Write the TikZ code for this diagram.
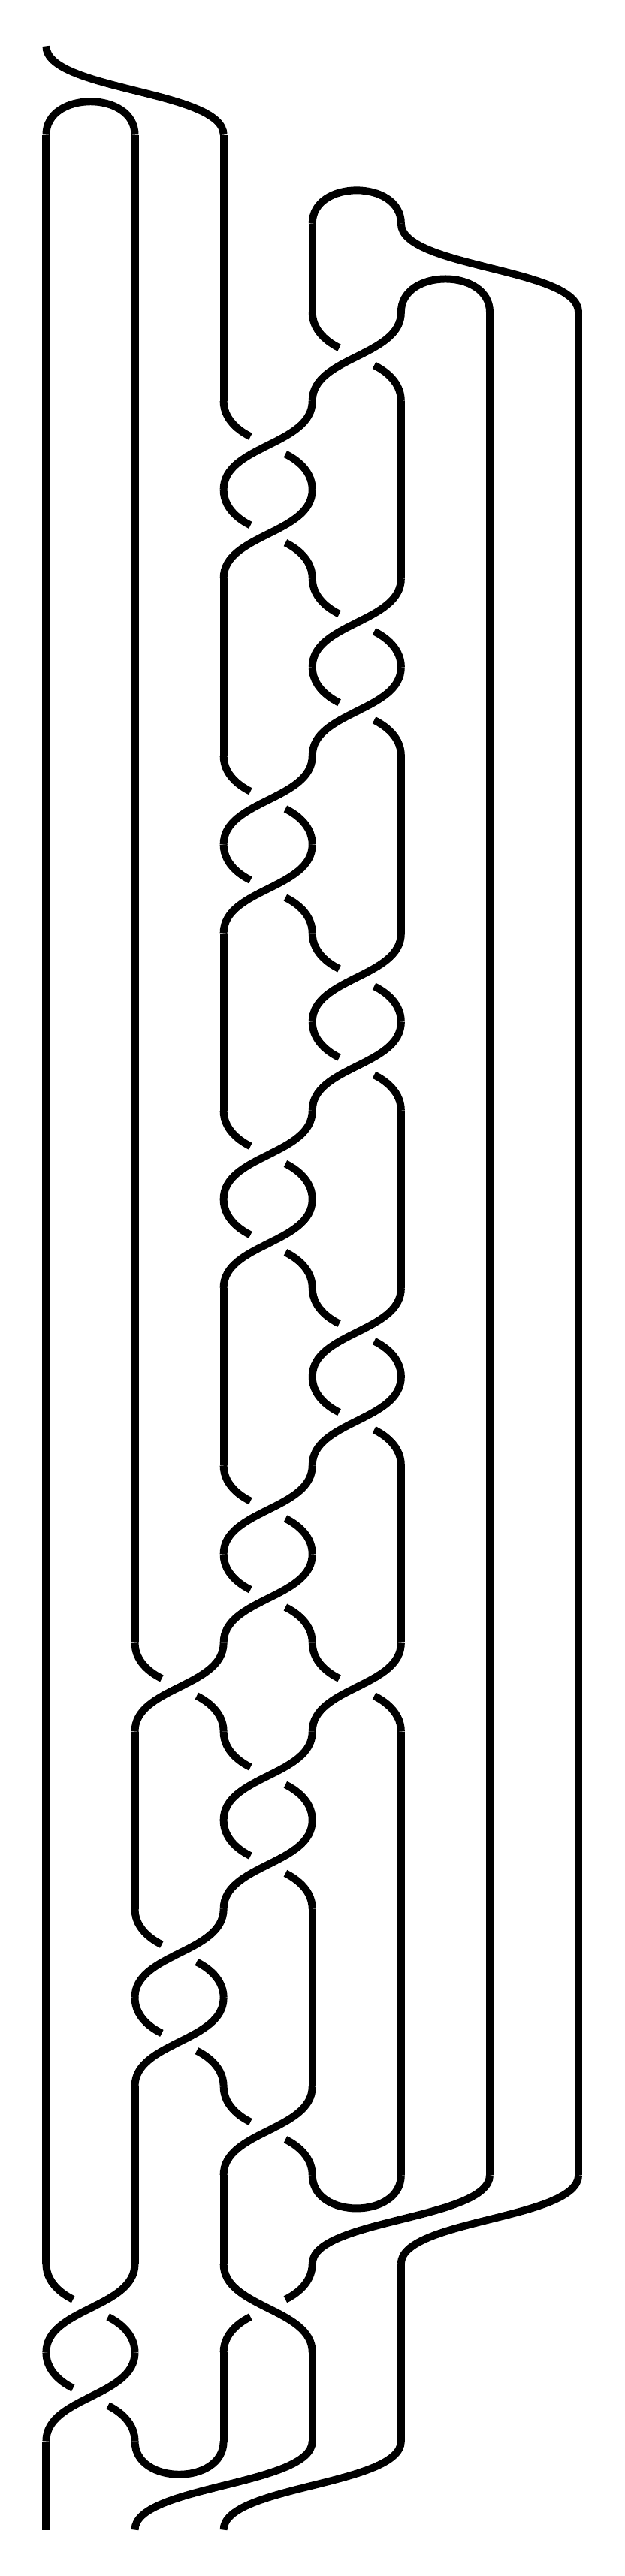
\documentclass[tikz,border=0pt]{standalone}
\begin{document}
\begin{tikzpicture}
% TikZ braid exported on a unit grid: columns 0..6, levels 0..28 downwards
\def\cellsz{1cm}
\providecommand{\braidStrandColor}{black}
\providecommand{\braidStrandWidth}{2.4pt}
\providecommand{\braidGap}{0.22cm}
% Crossing in columns #1,#1+1 on level #2, strand from upper right on top
\providecommand{\braidCrossL}[2]{%
  \draw (#1+1,-#2) .. controls +(0,-0.5) and +(0,0.5) .. (#1,-#2-1);
  \draw[shorten >=\braidGap] (#1,-#2) .. controls +(0,-0.25) and +(-0.25,0.125) .. (#1+0.5,-#2-0.5);
  \draw[shorten <=\braidGap] (#1+0.5,-#2-0.5) .. controls +(0.25,-0.125) and +(0,0.25) .. (#1+1,-#2-1);}
% Crossing in columns #1,#1+1 on level #2, strand from upper left on top
\providecommand{\braidCrossR}[2]{%
  \draw (#1,-#2) .. controls +(0,-0.5) and +(0,0.5) .. (#1+1,-#2-1);
  \draw[shorten >=\braidGap] (#1+1,-#2) .. controls +(0,-0.25) and +(0.25,0.125) .. (#1+0.5,-#2-0.5);
  \draw[shorten <=\braidGap] (#1+0.5,-#2-0.5) .. controls +(-0.25,-0.125) and +(0,0.25) .. (#1,-#2-1);}
\begin{scope}[x=\cellsz, y=\cellsz, draw=\braidStrandColor, line width=\braidStrandWidth, line cap=butt, line join=round]
  % Background
  \path[fill=white] (-0.52,0.52) rectangle (6.516,-28.52);
  % Caps
  \draw (0,-1) .. controls +(0,0.5) and +(0,0.5) .. (1,-1);
  \draw (3,-2) .. controls +(0,0.5) and +(0,0.5) .. (4,-2);
  \draw (4,-3) .. controls +(0,0.5) and +(0,0.5) .. (5,-3);
  % Cups
  \draw (3,-24) .. controls +(0,-0.5) and +(0,-0.5) .. (4,-24);
  \draw (1,-27) .. controls +(0,-0.5) and +(0,-0.5) .. (2,-27);
  % Wide shifts over two columns
  \draw (0,0) .. controls +(0,-0.5) and +(0,0.5) .. (2,-1);
  \draw (4,-2) .. controls +(0,-0.5) and +(0,0.5) .. (6,-3);
  \draw (5,-24) .. controls +(0,-0.5) and +(0,0.5) .. (3,-25);
  \draw (6,-24) .. controls +(0,-0.5) and +(0,0.5) .. (4,-25);
  \draw (3,-27) .. controls +(0,-0.5) and +(0,0.5) .. (1,-28);
  \draw (4,-27) .. controls +(0,-0.5) and +(0,0.5) .. (2,-28);
  % Vertical strands
  \draw (0,-1) -- (0,-25);
  \draw (0,-27) -- (0,-28);
  \draw (1,-1) -- (1,-18);
  \draw (1,-19) -- (1,-21);
  \draw (1,-23) -- (1,-25);
  \draw (2,-1) -- (2,-4);
  \draw (2,-6) -- (2,-8);
  \draw (2,-10) -- (2,-12);
  \draw (2,-14) -- (2,-16);
  \draw (2,-24) -- (2,-25);
  \draw (2,-26) -- (2,-27);
  \draw (3,-2) -- (3,-3);
  \draw (3,-21) -- (3,-23);
  \draw (3,-26) -- (3,-27);
  \draw (4,-4) -- (4,-6);
  \draw (4,-8) -- (4,-10);
  \draw (4,-12) -- (4,-14);
  \draw (4,-16) -- (4,-18);
  \draw (4,-19) -- (4,-24);
  \draw (4,-25) -- (4,-27);
  \draw (5,-3) -- (5,-24);
  \draw (6,-3) -- (6,-24);
  % Crossings
  \braidCrossL{3}{3}
  \braidCrossL{2}{4}
  \braidCrossL{2}{5}
  \braidCrossL{3}{6}
  \braidCrossL{3}{7}
  \braidCrossL{2}{8}
  \braidCrossL{2}{9}
  \braidCrossL{3}{10}
  \braidCrossL{3}{11}
  \braidCrossL{2}{12}
  \braidCrossL{2}{13}
  \braidCrossL{3}{14}
  \braidCrossL{3}{15}
  \braidCrossL{2}{16}
  \braidCrossL{2}{17}
  \braidCrossL{1}{18}
  \braidCrossL{3}{18}
  \braidCrossL{2}{19}
  \braidCrossL{2}{20}
  \braidCrossL{1}{21}
  \braidCrossL{1}{22}
  \braidCrossL{2}{23}
  \braidCrossL{0}{25}
  \braidCrossR{2}{25}
  \braidCrossL{0}{26}
\end{scope}
\end{tikzpicture}
\end{document}
